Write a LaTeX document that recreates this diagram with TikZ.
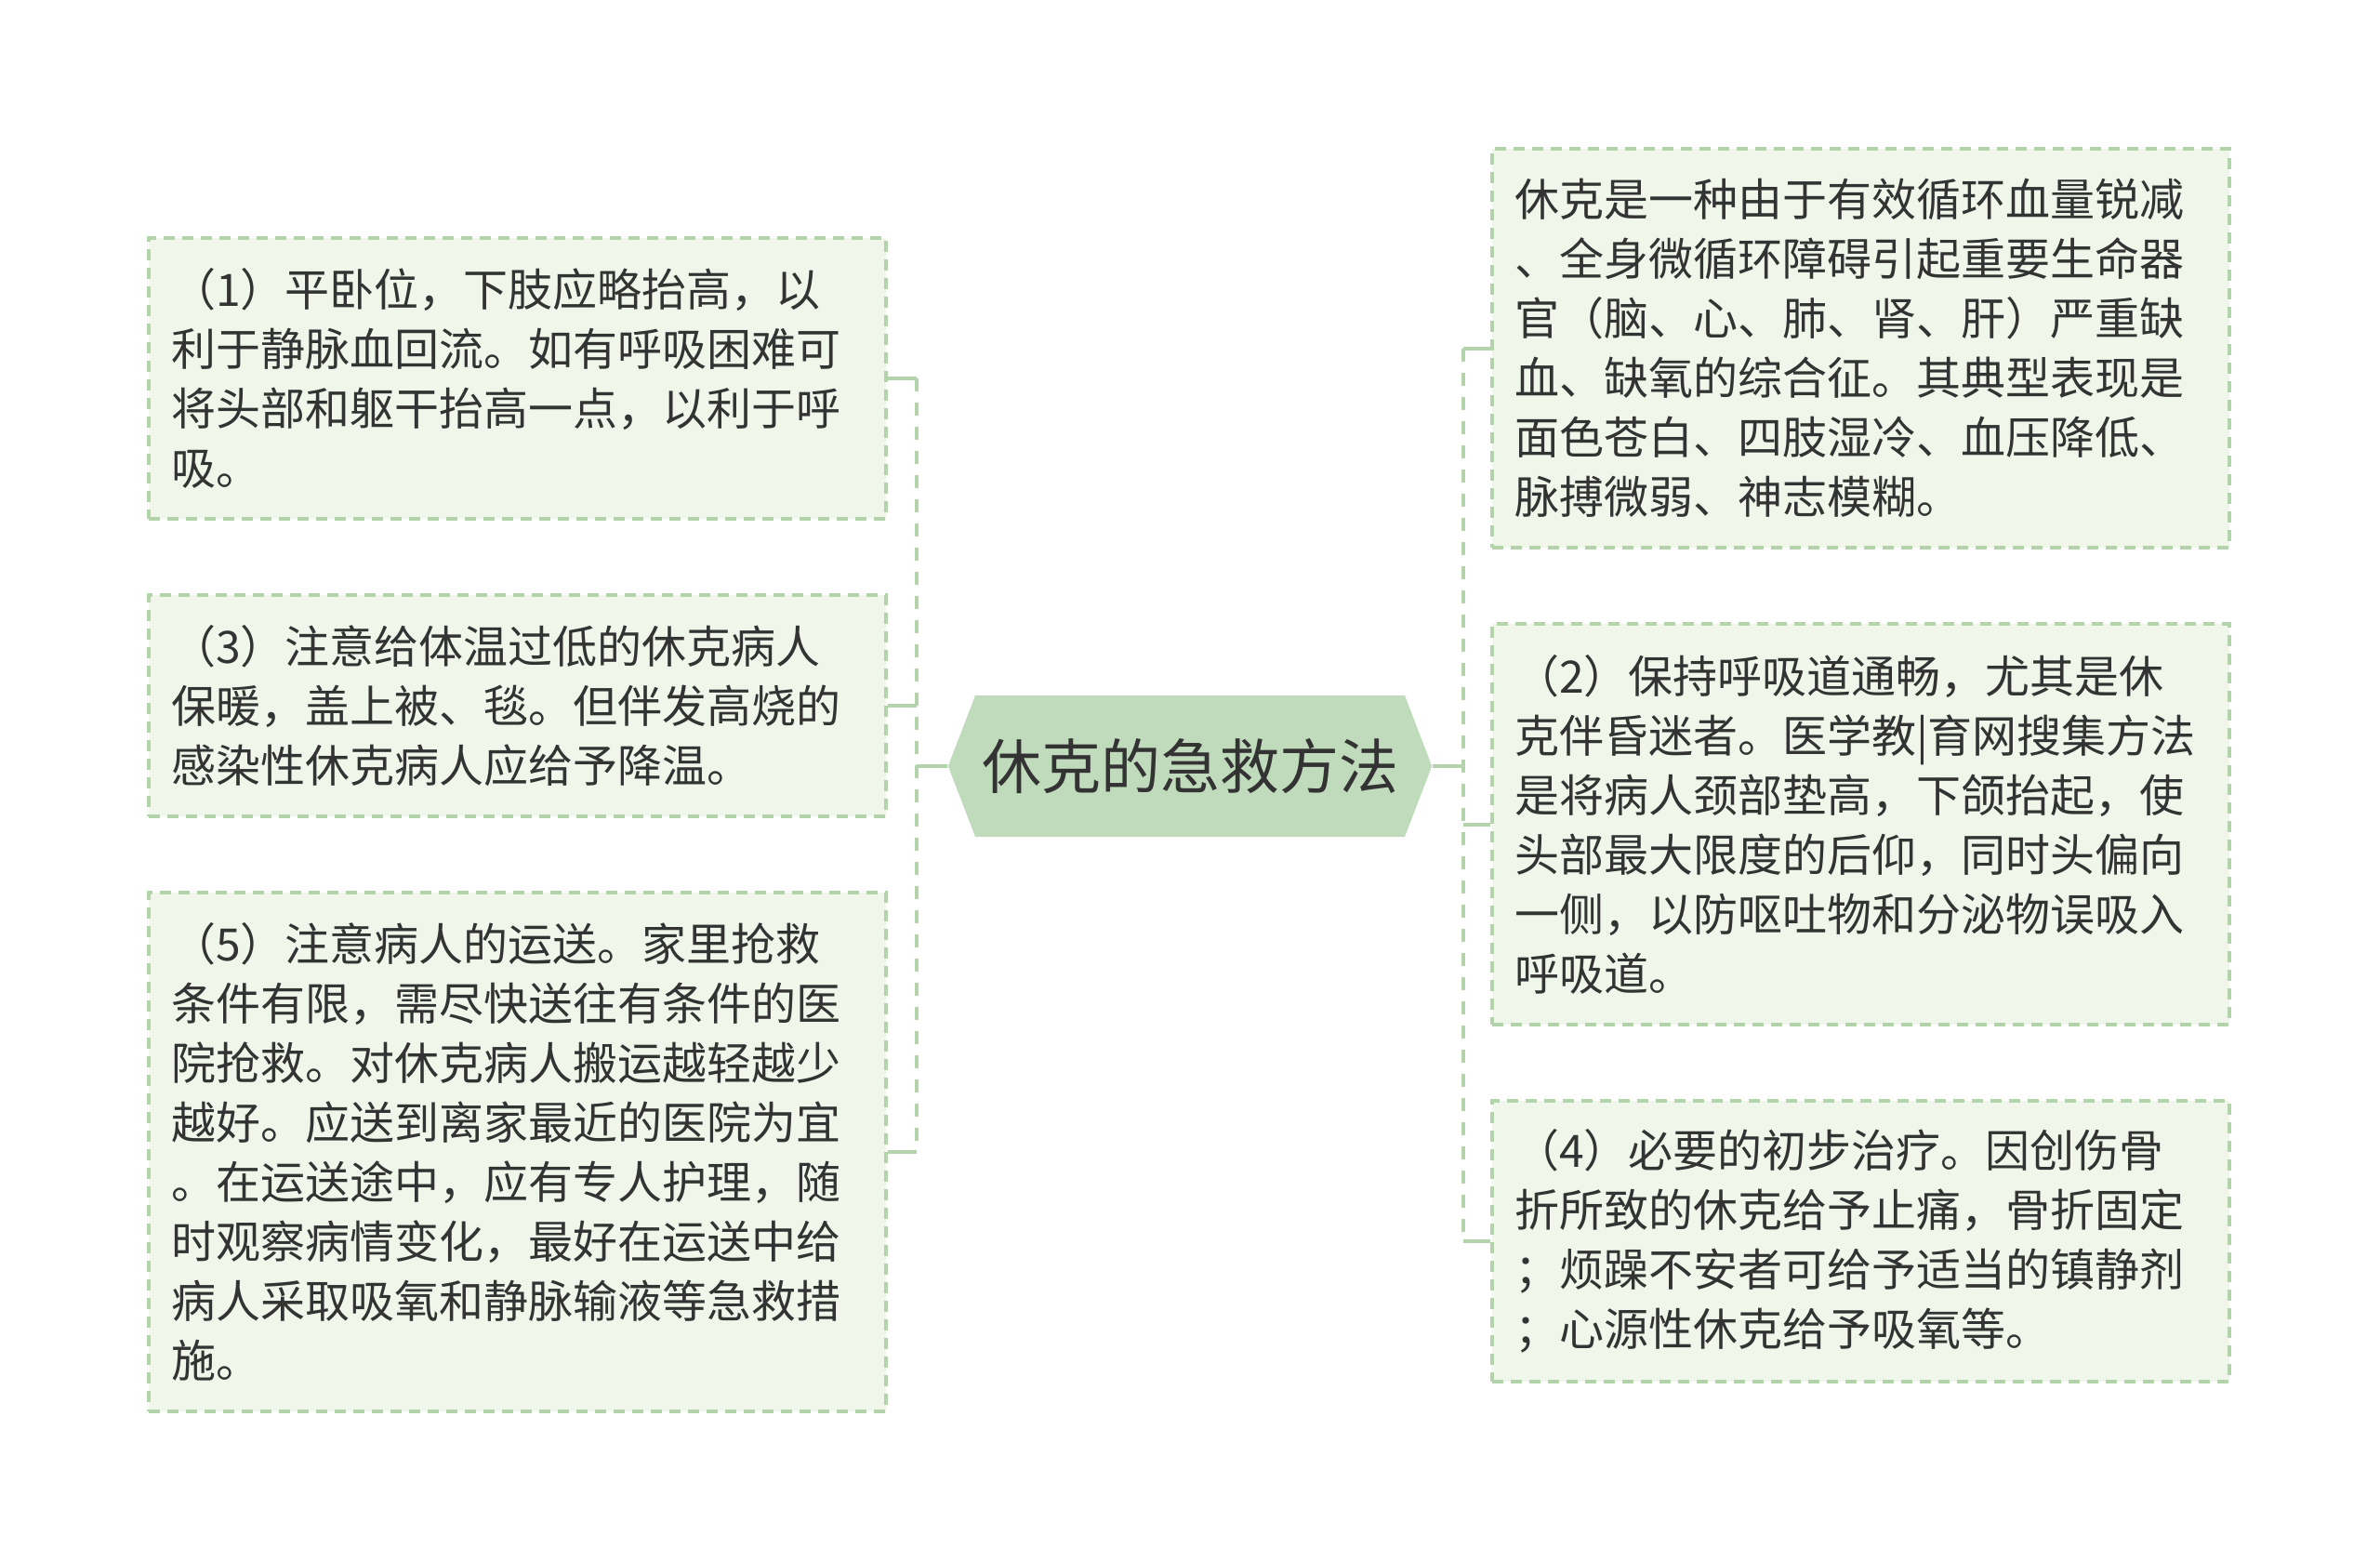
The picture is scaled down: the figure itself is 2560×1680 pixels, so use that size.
\documentclass[tikz,border=0pt]{standalone}
\usepackage{fontspec}
\setmainfont{Noto Sans CJK SC}
\usetikzlibrary{shapes.symbols}
\definecolor{testo}{HTML}{333333}
\definecolor{verdelinea}{HTML}{B3D4AA}
\definecolor{verdechiaro}{HTML}{F0F7EA}
\definecolor{verderadice}{HTML}{C0DBBB}
\tikzset{
  foglia/.style={draw=verdelinea,fill=verdechiaro,line width=0.8pt,dash pattern=on 3pt off 2pt,
    text=testo,font=\fontsize{12pt}{16pt}\selectfont,text width=186.25pt,align=left,
    inner xsep=6pt,inner ysep=0pt,minimum width=198.25pt},
  radice/.style={shape=signal,signal to=west and east,signal pointer angle=138,fill=verderadice,
    text=testo,font=\fontsize{16pt}{20pt}\selectfont,inner xsep=1.75pt,inner ysep=0pt,minimum height=38pt},
  stub/.style={draw=verdelinea,line width=1pt},
  asse/.style={draw=verdelinea,line width=1pt,dash pattern=on 3.5pt off 3pt}
}
\begin{document}
\begin{tikzpicture}[x=0.25pt,y=-0.25pt]
  \useasboundingbox (0,0) rectangle (2560,1680);
  %nodo centrale
  \node[radice] (root) at (1280,824) {休克的急救方法};
  %foglie a sinistra
  \node[foglia,minimum height=75.5pt] (b1) at (556.5,407) {（1）平卧位，下肢应略抬高，以\\利于静脉血回流。如有呼吸困难可\\将头部和躯干抬高一点，以利于呼\\吸。};
  \node[foglia,minimum height=59.5pt] (b3) at (556.5,759) {（3）注意给体温过低的休克病人\\保暖，盖上被、毯。但伴发高烧的\\感染性休克病人应给予降温。};
  \node[foglia,minimum height=139.5pt] (b5) at (556.5,1239) {（5）注意病人的运送。家里抢救\\条件有限，需尽快送往有条件的医\\院抢救。对休克病人搬运越轻越少\\越好。应送到离家最近的医院为宜\\。在运送途中，应有专人护理，随\\时观察病情变化，最好在运送中给\\病人采取吸氧和静脉输液等急救措\\施。};
  %foglie a destra
  \node[foglia,minimum height=107.25pt] (ba) at (2001.5,374.5) {休克是一种由于有效循环血量锐减\\、全身微循环障碍引起重要生命器\\官（脑、心、肺、肾、肝）严重缺\\血、缺氧的综合征。其典型表现是\\面色苍白、四肢湿冷、血压降低、\\脉搏微弱、神志模糊。};
  \node[foglia,minimum height=107.75pt] (b2) at (2001.5,886.5) {（2）保持呼吸道通畅，尤其是休\\克伴昏迷者。医学教|育网搜集方法\\是将病人颈部垫高，下颌抬起，使\\头部最大限度的后仰，同时头偏向\\一侧，以防呕吐物和分泌物误吸入\\呼吸道。};
  \node[foglia,minimum height=75.5pt] (b4) at (2001.5,1335) {（4）必要的初步治疗。因创伤骨\\折所致的休克给予止痛，骨折固定\\；烦躁不安者可给予适当的镇静剂\\；心源性休克给予吸氧等。};
  %rami sinistra
  \draw[stub] (root.west) -- ++(-33,0) coordinate (sx);
  \foreach \n in {b1,b3,b5}
    \draw[stub] (\n.east) -- (\n.east -| sx);
  \draw[asse] (b1.east -| sx) -- (b5.east -| sx);
  %rami destra
  \draw[stub] (root.east) -- ++(33,0) coordinate (dx);
  \foreach \n in {ba,b2,b4}
    \draw[stub] (\n.west) -- (\n.west -| dx);
  \draw[asse] (ba.west -| dx) -- (b4.west -| dx);
\end{tikzpicture}
\end{document}
